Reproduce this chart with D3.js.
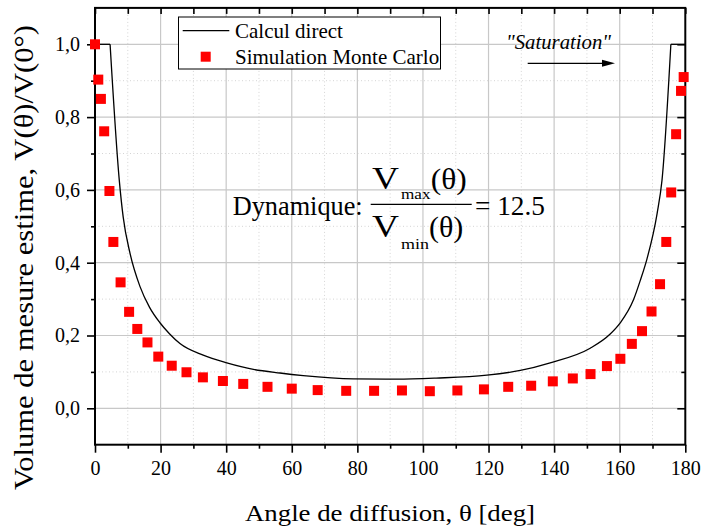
<!DOCTYPE html>
<html><head><meta charset="utf-8">
<script src="https://cdn.jsdelivr.net/npm/d3@7"></script>
<style>
body{margin:0;background:#fff}
text{font-family:"Liberation Serif","Times New Roman",serif;fill:#000}
</style>
</head><body><svg id="c" width="701" height="528"></svg>
<script>
// ---- data ----
const thetaDirect = [0, 4.6, 7.4, 8.6, 10.7, 13.7, 16.6, 19.8, 22.7, 25.9, 33.0, 40.2, 48.3, 56.4, 63.5, 78.8, 92.0, 104.0, 119.5, 129.7, 138.8, 151.0, 157.1, 160.1, 164.2, 166.3, 168.3, 171.4, 172.9, 175.6, 180];
const valueDirect = [1.0, 1.0, 0.627, 0.525, 0.425, 0.335, 0.278, 0.235, 0.205, 0.178, 0.146, 0.125, 0.107, 0.097, 0.090, 0.081, 0.080, 0.083, 0.091, 0.104, 0.125, 0.165, 0.204, 0.234, 0.298, 0.352, 0.41, 0.535, 0.627, 1.0, 1.0];
const thetaMC = [0, 1.0, 1.8, 2.8, 4.4, 5.6, 7.8, 10.4, 12.9, 16.0, 19.3, 23.4, 27.9, 32.9, 39.0, 45.2, 52.6, 60.0, 67.9, 76.6, 85.1, 93.6, 102.1, 110.5, 118.6, 126.0, 133.0, 139.6, 145.7, 151.1, 156.1, 160.2, 163.7, 166.8, 169.7, 172.3, 174.2, 175.7, 177.2, 178.7, 179.5];
const valueMC = [1.0, 0.903, 0.85, 0.761, 0.597, 0.457, 0.346, 0.265, 0.218, 0.181, 0.142, 0.117, 0.099, 0.085, 0.075, 0.067, 0.059, 0.054, 0.050, 0.048, 0.048, 0.049, 0.047, 0.049, 0.052, 0.059, 0.062, 0.074, 0.082, 0.094, 0.116, 0.136, 0.177, 0.212, 0.266, 0.341, 0.457, 0.593, 0.753, 0.872, 0.910];
const xTicks = [0, 20, 40, 60, 80, 100, 120, 140, 160, 180];
const xMinor = [10, 30, 50, 70, 90, 110, 130, 150, 170];
const yTicks = [0, 0.2, 0.4, 0.6, 0.8, 1.0];
const yMinor = [-0.1, 0.1, 0.3, 0.5, 0.7, 0.9, 1.1];
const xLabel = "Angle de diffusion, θ [deg]";
const yLabel = "Volume de mesure estime, V(θ)/V(0°)";
const legendLabels = ["Calcul direct", "Simulation Monte Carlo"];

// ---- scales ----
const X0 = 95, X1 = 685.3, Y0 = 444.7, Y1 = 7.9;
const x = d3.scaleLinear().domain([0, 180]).range([X0, X1]);
const y = d3.scaleLinear().domain([-0.1, 1.1]).range([Y0, Y1]);
const svg = d3.select("#c");

// ---- grid ----
const grid = svg.append("g");
grid.selectAll(".gxm").data(xMinor).join("line")
  .attr("x1", d => x(d)).attr("x2", d => x(d)).attr("y1", Y1).attr("y2", Y0)
  .attr("stroke", "#d4d4d4").attr("stroke-width", 1).attr("stroke-dasharray", "1,2.5");
grid.selectAll(".gym").data(yMinor.filter(v => v > -0.1 && v < 1.1)).join("line")
  .attr("y1", d => y(d)).attr("y2", d => y(d)).attr("x1", X0).attr("x2", X1)
  .attr("stroke", "#d4d4d4").attr("stroke-width", 1).attr("stroke-dasharray", "1,2.5");
grid.selectAll(".gx").data(xTicks.filter(v => v > 0 && v < 180)).join("line")
  .attr("x1", d => x(d)).attr("x2", d => x(d)).attr("y1", Y1).attr("y2", Y0)
  .attr("stroke", "#c8c8c8").attr("stroke-width", 1.2);
grid.selectAll(".gy").data(yTicks).join("line")
  .attr("y1", d => y(d)).attr("y2", d => y(d)).attr("x1", X0).attr("x2", X1)
  .attr("stroke", "#c8c8c8").attr("stroke-width", 1.2);

// ---- axes ----
const fmt = d => d3.format(".1f")(d).replace(".", ",");
function styleAxis(g) {
  g.select(".domain").remove();
  g.selectAll(".tick line").attr("stroke", "#000").attr("stroke-width", 1.6);
  g.selectAll(".tick text").style("font-family", '"Liberation Serif","Times New Roman",serif').style("font-size", "20px").attr("fill", "#000");
}
svg.append("g").attr("transform", `translate(0,${Y0})`)
  .call(d3.axisBottom(x).tickValues(xTicks).tickSize(8).tickPadding(8).tickSizeOuter(0))
  .call(styleAxis);
svg.append("g").attr("transform", `translate(0,${Y0})`)
  .call(d3.axisBottom(x).tickValues(xMinor).tickSize(4).tickFormat("").tickSizeOuter(0))
  .call(styleAxis);
svg.append("g").attr("transform", `translate(0,${Y1})`)
  .call(d3.axisTop(x).tickValues(xTicks.concat(xMinor)).tickSize(-6).tickFormat("").tickSizeOuter(0))
  .call(styleAxis);
svg.append("g").attr("transform", `translate(${X0},0)`)
  .call(d3.axisLeft(y).tickValues(yTicks).tickSize(8).tickPadding(7).tickFormat(fmt).tickSizeOuter(0))
  .call(styleAxis);
svg.append("g").attr("transform", `translate(${X0},0)`)
  .call(d3.axisLeft(y).tickValues(yMinor.filter(v => v > -0.1 && v < 1.1)).tickSize(4).tickFormat("").tickSizeOuter(0))
  .call(styleAxis);
svg.append("g").attr("transform", `translate(${X1},0)`)
  .call(d3.axisRight(y).tickValues(yTicks).tickSize(-8).tickFormat("").tickSizeOuter(0))
  .call(styleAxis);
svg.append("g").attr("transform", `translate(${X1},0)`)
  .call(d3.axisRight(y).tickValues(yMinor.filter(v => v > -0.1 && v < 1.1)).tickSize(-4).tickFormat("").tickSizeOuter(0))
  .call(styleAxis);
svg.append("rect").attr("x", X0).attr("y", Y1).attr("width", X1 - X0).attr("height", Y0 - Y1)
  .attr("fill", "none").attr("stroke", "#000").attr("stroke-width", 2);

// ---- direct curve ----
const direct = thetaDirect.map((t, i) => ({t, v: valueDirect[i]}));
const lineLin = d3.line().x(d => x(d.t)).y(d => y(d.v));
const lineMono = d3.line().x(d => x(d.t)).y(d => y(d.v)).curve(d3.curveMonotoneX);
const n = direct.length;
svg.append("path").attr("d", lineLin(direct.slice(0, 2))).attr("fill", "none").attr("stroke", "#000").attr("stroke-width", 1.3);
svg.append("path").attr("d", lineMono(direct.slice(1, n - 1))).attr("fill", "none").attr("stroke", "#000").attr("stroke-width", 1.3);
svg.append("path").attr("d", lineLin(direct.slice(n - 2))).attr("fill", "none").attr("stroke", "#000").attr("stroke-width", 1.3);

// ---- Monte Carlo squares ----
const S = 10;
svg.append("g").selectAll("rect").data(thetaMC.map((t, i) => ({t, v: valueMC[i]}))).join("rect")
  .attr("x", d => x(d.t) - S / 2).attr("y", d => y(d.v) - S / 2)
  .attr("width", S).attr("height", S).attr("fill", "#ff0000");

// ---- legend ----
const lg = svg.append("g");
lg.append("rect").attr("x", 178.5).attr("y", 17).attr("width", 262).attr("height", 52)
  .attr("fill", "#fff").attr("stroke", "#000").attr("stroke-width", 1);
lg.append("line").attr("x1", 182.7).attr("x2", 229.3).attr("y1", 30.7).attr("y2", 30.7)
  .attr("stroke", "#000").attr("stroke-width", 1.3);
lg.append("rect").attr("x", 205.7 - S / 2).attr("y", 56.7 - S / 2).attr("width", S).attr("height", S).attr("fill", "#ff0000");
lg.append("text").attr("x", 235).attr("y", 37.5).style("font-size", "21px").text(legendLabels[0]);
lg.append("text").attr("x", 235).attr("y", 64).style("font-size", "21px").text(legendLabels[1]);

// ---- axis titles ----
svg.append("text").attr("x", 245).attr("y", 521).style("font-size", "24px")
  .attr("textLength", 290).attr("lengthAdjust", "spacingAndGlyphs").text(xLabel);
svg.append("text").attr("transform", "translate(33,490) rotate(-90)").style("font-size", "27px")
  .attr("textLength", 465).attr("lengthAdjust", "spacingAndGlyphs").text(yLabel);

// ---- Saturation annotation ----
svg.append("text").attr("x", 506).attr("y", 48.5).style("font-size", "21px").style("font-style", "italic")
  .attr("textLength", 105).attr("lengthAdjust", "spacingAndGlyphs").text('"Saturation"');
svg.append("line").attr("x1", 527.7).attr("x2", 604).attr("y1", 63.3).attr("y2", 63.3)
  .attr("stroke", "#000").attr("stroke-width", 1.2);
svg.append("path").attr("d", "M615,63.3 L602,59.8 L602,66.8 Z").attr("fill", "#000");

// ---- Dynamique annotation ----
const dyn = svg.append("g");
dyn.append("text").attr("x", 232.7).attr("y", 214.5).style("font-size", "28px")
  .attr("textLength", 130).attr("lengthAdjust", "spacingAndGlyphs").text("Dynamique:");
dyn.append("text").attr("x", 372).attr("y", 189).style("font-size", "31px")
  .attr("textLength", 27).attr("lengthAdjust", "spacingAndGlyphs").text("V");
dyn.append("text").attr("x", 401).attr("y", 199.3).style("font-size", "15px")
  .attr("textLength", 29.5).attr("lengthAdjust", "spacingAndGlyphs").text("max");
dyn.append("text").attr("x", 430.7).attr("y", 189).style("font-size", "29px")
  .attr("textLength", 36).attr("lengthAdjust", "spacingAndGlyphs").text("(θ)");
dyn.append("line").attr("x1", 370.7).attr("x2", 471.7).attr("y1", 204.3).attr("y2", 204.3)
  .attr("stroke", "#000").attr("stroke-width", 1.2);
dyn.append("text").attr("x", 372).attr("y", 237).style("font-size", "31px")
  .attr("textLength", 27).attr("lengthAdjust", "spacingAndGlyphs").text("V");
dyn.append("text").attr("x", 401).attr("y", 249.3).style("font-size", "15px")
  .attr("textLength", 28).attr("lengthAdjust", "spacingAndGlyphs").text("min");
dyn.append("text").attr("x", 429).attr("y", 237).style("font-size", "29px")
  .attr("textLength", 34.3).attr("lengthAdjust", "spacingAndGlyphs").text("(θ)");
dyn.append("text").attr("x", 475).attr("y", 214.5).style("font-size", "28px")
  .attr("textLength", 70).attr("lengthAdjust", "spacingAndGlyphs").text("= 12.5");
</script>
</body></html>
